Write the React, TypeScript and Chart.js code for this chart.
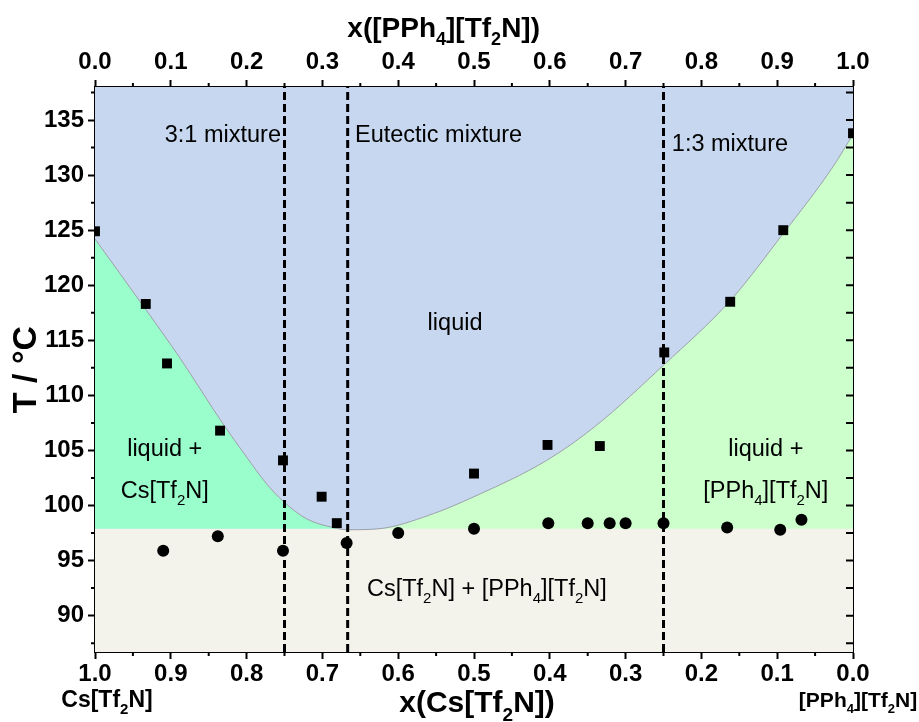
import React, { useEffect, useRef } from 'react';
import { Chart, registerables } from 'chart.js';

Chart.register(...registerables);

// ---------- data ----------
const T_MIN = 86.7;
const T_MAX = 138;
const xTicks = [0, 0.1, 0.2, 0.3, 0.4, 0.5, 0.6, 0.7, 0.8, 0.9, 1.0];
const xMinorTicks = [0.05, 0.15, 0.25, 0.35, 0.45, 0.55, 0.65, 0.75, 0.85, 0.95];
const tTicks = [90, 95, 100, 105, 110, 115, 120, 125, 130, 135];
const tMinorTicks = [87.5, 92.5, 97.5, 102.5, 107.5, 112.5, 117.5, 122.5, 127.5, 132.5, 137.5];

// x = mole fraction of [PPh4][Tf2N] (top axis)
const liquidusX = [0, 0.067, 0.095, 0.165, 0.248, 0.299, 0.319, 0.5, 0.597, 0.666, 0.751, 0.838, 0.908, 1.0];
const liquidusT = [124.9, 118.3, 112.9, 106.8, 104.1, 100.8, 98.4, 102.9, 105.5, 105.4, 113.9, 118.5, 125.0, 133.8];

const solidusX = [0.09, 0.162, 0.248, 0.332, 0.4, 0.5, 0.598, 0.65, 0.679, 0.7, 0.75, 0.834, 0.904, 0.932];
const solidusT = [95.9, 97.2, 95.9, 96.6, 97.5, 97.9, 98.4, 98.4, 98.4, 98.4, 98.4, 98.0, 97.8, 98.7];

// fitted liquidus curve
const curveX = [0, 0.068, 0.112, 0.169, 0.2, 0.226, 0.248, 0.279, 0.314, 0.333, 0.376, 0.44, 0.5, 0.596, 0.66, 0.751, 0.838, 0.908, 0.974, 1.0];
const curveT = [124.2, 117.7, 113.4, 107.4, 104.4, 102.0, 100.4, 98.8, 98.0, 97.8, 97.9, 99.1, 100.8, 104.1, 107.2, 112.8, 118.6, 124.7, 130.8, 133.7];
const eutecticIndex = 9; // curve minimum (x = 0.333)
const eutecticT = 97.9;

const mixtureX = [0.25, 1 / 3, 0.75];

type Seg = [string, boolean];
const labelTexts: { segs: Seg[]; x: number; t: number; align: 'left' | 'center' | 'right' }[] = [
  { segs: [['3:1 mixture', false]], x: 0.2454, t: 133.0, align: 'right' },
  { segs: [['Eutectic mixture', false]], x: 0.343, t: 133.0, align: 'left' },
  { segs: [['1:3 mixture', false]], x: 0.761, t: 132.2, align: 'left' },
  { segs: [['liquid', false]], x: 0.475, t: 115.9, align: 'center' },
  { segs: [['liquid +', false]], x: 0.092, t: 104.5, align: 'center' },
  { segs: [['Cs[Tf', false], ['2', true], ['N]', false]], x: 0.092, t: 100.7, align: 'center' },
  { segs: [['liquid +', false]], x: 0.885, t: 104.5, align: 'center' },
  { segs: [['[PPh', false], ['4', true], ['][Tf', false], ['2', true], ['N]', false]], x: 0.885, t: 100.7, align: 'center' },
  { segs: [['Cs[Tf', false], ['2', true], ['N] + [PPh', false], ['4', true], ['][Tf', false], ['2', true], ['N]', false]], x: 0.517, t: 91.75, align: 'center' },
];

const FONT = '"Liberation Sans", Arial, Helvetica, sans-serif';

function drawRich(ctx: CanvasRenderingContext2D, segs: Seg[], x: number, y: number, size: number, bold: boolean, align: 'left' | 'center' | 'right') {
  const w = bold ? 'bold ' : '';
  const main = `${w}${size}px ${FONT}`;
  const sub = `${w}${Math.round(size * 0.64)}px ${FONT}`;
  let total = 0;
  const widths = segs.map(([t, s]) => {
    ctx.font = s ? sub : main;
    const m = ctx.measureText(t).width;
    total += m;
    return m;
  });
  let cx = align === 'left' ? x : align === 'center' ? x - total / 2 : x - total;
  ctx.textAlign = 'left';
  ctx.textBaseline = 'alphabetic';
  ctx.fillStyle = '#000';
  segs.forEach(([t, s], i) => {
    ctx.font = s ? sub : main;
    ctx.fillText(t, cx, y + (s ? size * 0.3 : 0));
    cx += widths[i];
  });
}

const pts = (xs: number[], ys: number[]) => xs.map((x, i) => ({ x, y: ys[i] }));

const decorPlugin = {
  id: 'decor',
  afterDatasetsDraw(chart: any) {
    const ctx: CanvasRenderingContext2D = chart.ctx;
    const sx = chart.scales.x;
    const sy = chart.scales.y;
    ctx.save();
    labelTexts.forEach((l) => {
      drawRich(ctx, l.segs, sx.getPixelForValue(l.x), sy.getPixelForValue(l.t), 23.5, false, l.align);
    });
    ctx.restore();
  },
  afterDraw(chart: any) {
    const ctx: CanvasRenderingContext2D = chart.ctx;
    const { left, right, top, bottom } = chart.chartArea;
    const sx = chart.scales.x;
    const sx2 = chart.scales.x2;
    const sy = chart.scales.y;
    ctx.save();
    ctx.strokeStyle = '#000';
    ctx.lineWidth = 2;
    ctx.beginPath();
    xMinorTicks.forEach((v) => {
      const p = sx.getPixelForValue(v);
      ctx.moveTo(p, top);
      ctx.lineTo(p, top - 4);
      const q = sx2.getPixelForValue(v);
      ctx.moveTo(q, bottom);
      ctx.lineTo(q, bottom + 4);
    });
    tMinorTicks.forEach((v) => {
      const p = sy.getPixelForValue(v);
      ctx.moveTo(left, p);
      ctx.lineTo(left - 4, p);
    });
    [...tTicks, ...tMinorTicks].forEach((v) => {
      const p = sy.getPixelForValue(v);
      ctx.moveTo(right, p);
      ctx.lineTo(right - 7, p);
    });
    ctx.stroke();

    // axis titles
    drawRich(ctx, [['x([PPh', false], ['4', true], ['][Tf', false], ['2', true], ['N])', false]], sx.getPixelForValue(0.46), 37, 28, true, 'center');
    drawRich(ctx, [['x(Cs[Tf', false], ['2', true], ['N])', false]], 477, 712, 30, true, 'center');
    drawRich(ctx, [['Cs[Tf', false], ['2', true], ['N]', false]], 107, 707, 23, true, 'center');
    drawRich(ctx, [['[PPh', false], ['4', true], ['][Tf', false], ['2', true], ['N]', false]], 858, 707, 21, true, 'center');
    ctx.translate(36, (top + bottom) / 2);
    ctx.rotate(-Math.PI / 2);
    drawRich(ctx, [['T / °C', false]], 0, 0, 34, true, 'center');
    ctx.restore();
  },
};

const tickFont = { family: FONT, size: 24, weight: 'bold' as const };

export default function App() {
  const ref = useRef<HTMLCanvasElement>(null);
  useEffect(() => {
    if (!ref.current) return;
    const curve = pts(curveX, curveT);
    const chart = new Chart(ref.current, {
      type: 'line',
      data: {
        datasets: [
          {
            label: 'liquidus',
            data: pts(liquidusX, liquidusT),
            showLine: false,
            pointStyle: 'rect',
            pointRadius: 7,
            backgroundColor: '#000',
            borderColor: '#000',
            borderWidth: 0,
            order: 0,
          },
          {
            label: 'solidus',
            data: pts(solidusX, solidusT),
            showLine: false,
            pointStyle: 'circle',
            pointRadius: 6,
            backgroundColor: '#000',
            borderColor: '#000',
            borderWidth: 0,
            order: 1,
          },
          ...mixtureX.map((mx) => ({
            label: 'mix',
            data: [{ x: mx, y: T_MIN }, { x: mx, y: T_MAX }],
            borderColor: '#000',
            borderWidth: 3,
            borderDash: [8, 4],
            pointRadius: 0,
            fill: false,
            order: 2,
          })),
          {
            label: 'curve',
            data: curve,
            borderColor: '#9aa0a8',
            borderWidth: 1,
            pointRadius: 0,
            cubicInterpolationMode: 'monotone',
            fill: 'end',
            backgroundColor: '#c6d7ef',
            order: 3,
          },
          {
            label: 'solid',
            data: [{ x: 0, y: eutecticT }, { x: 1, y: eutecticT }],
            borderWidth: 0,
            pointRadius: 0,
            fill: 'start',
            backgroundColor: '#f3f2eb',
            order: 4,
          },
          {
            label: 'left',
            data: curve.slice(0, eutecticIndex + 1),
            borderWidth: 0,
            pointRadius: 0,
            cubicInterpolationMode: 'monotone',
            fill: 'start',
            backgroundColor: '#99fdcc',
            order: 5,
          },
          {
            label: 'right',
            data: curve.slice(eutecticIndex),
            borderWidth: 0,
            pointRadius: 0,
            cubicInterpolationMode: 'monotone',
            fill: 'start',
            backgroundColor: '#ccffcc',
            order: 5,
          },
        ] as any,
      },
      options: {
        animation: false,
        responsive: false,
        events: [],
        layout: { padding: 0 },
        plugins: { legend: { display: false }, tooltip: { enabled: false } },
        scales: {
          x: {
            type: 'linear',
            position: 'top',
            min: 0,
            max: 1,
            afterBuildTicks: (s: any) => {
              s.ticks = xTicks.map((v) => ({ value: v }));
            },
            ticks: { font: tickFont, color: '#000', padding: 3, maxRotation: 0, autoSkip: false, callback: (v: any) => Number(v).toFixed(1) },
            grid: { drawOnChartArea: false, drawTicks: true, tickLength: 7, tickWidth: 2, tickColor: '#000' },
            border: { display: true, color: '#000', width: 2 },
            afterFit: (s: any) => {
              s.height = 87;
            },
          },
          x2: {
            type: 'linear',
            position: 'bottom',
            reverse: true,
            min: 0,
            max: 1,
            afterBuildTicks: (s: any) => {
              s.ticks = xTicks.map((v) => ({ value: v }));
            },
            ticks: { font: tickFont, color: '#000', padding: 1, maxRotation: 0, autoSkip: false, callback: (v: any) => Number(v).toFixed(1) },
            grid: { drawOnChartArea: false, drawTicks: true, tickLength: 7, tickWidth: 2, tickColor: '#000' },
            border: { display: true, color: '#000', width: 2 },
            afterFit: (s: any) => {
              s.height = 70;
            },
          },
          y: {
            type: 'linear',
            position: 'left',
            min: T_MIN,
            max: T_MAX,
            afterBuildTicks: (s: any) => {
              s.ticks = tTicks.map((v) => ({ value: v }));
            },
            ticks: { font: tickFont, color: '#000', padding: 4, autoSkip: false },
            grid: { drawOnChartArea: false, drawTicks: true, tickLength: 7, tickWidth: 2, tickColor: '#000' },
            border: { display: true, color: '#000', width: 2 },
            afterFit: (s: any) => {
              s.width = 95;
            },
          },
          y2: {
            type: 'linear',
            position: 'right',
            min: T_MIN,
            max: T_MAX,
            ticks: { display: false },
            grid: { display: false, drawOnChartArea: false },
            border: { display: true, color: '#000', width: 2 },
            afterFit: (s: any) => {
              s.width = 66;
            },
          },
        },
      } as any,
      plugins: [decorPlugin],
    });
    return () => chart.destroy();
  }, []);
  return (
    <div style={{ position: 'absolute', left: 0, top: 0, width: 919, height: 722, background: '#fff' }}>
      <canvas ref={ref} width={919} height={722} />
    </div>
  );
}
